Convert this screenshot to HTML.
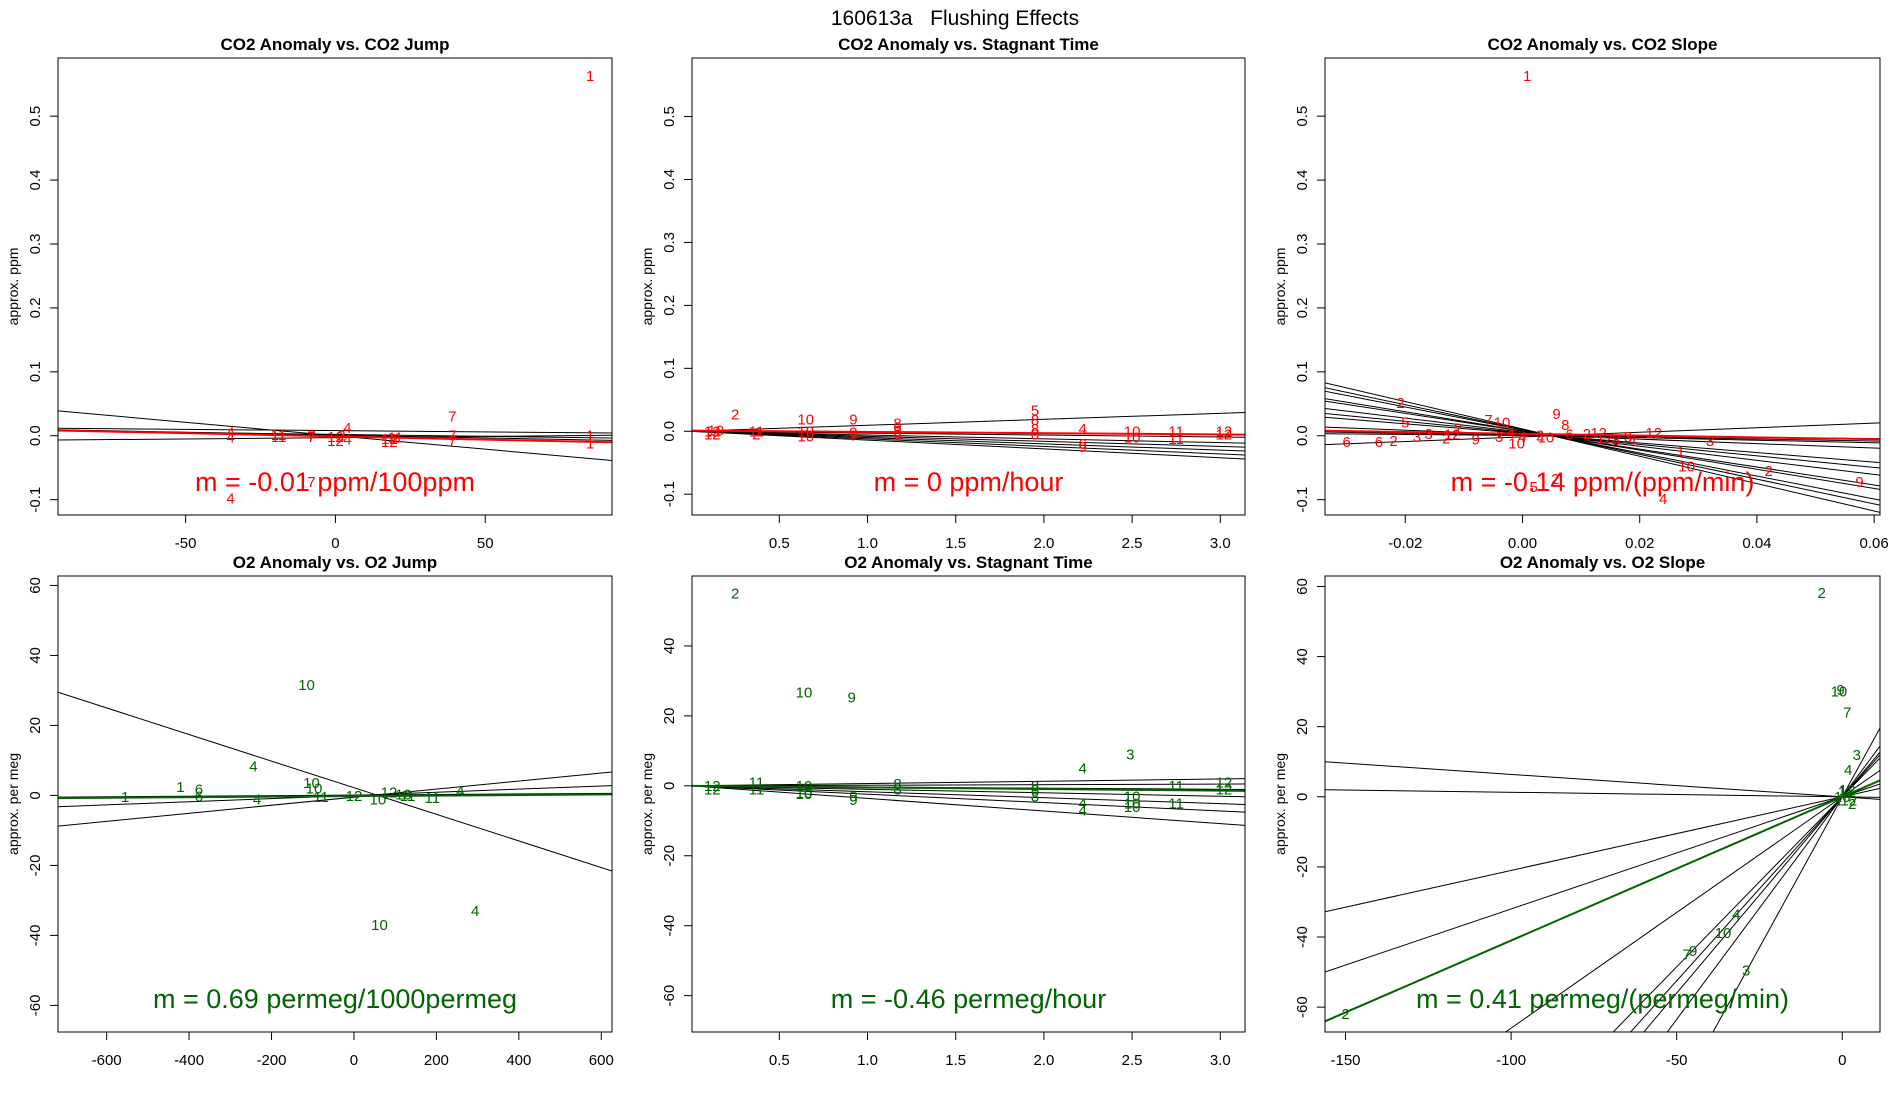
<!DOCTYPE html>
<html><head><meta charset="utf-8"><style>
html,body{margin:0;padding:0;background:#fff;overflow:hidden;width:1900px;height:1100px;}
svg{display:block;font-family:"Liberation Sans",Arial,sans-serif;}
</style></head><body>
<svg id="chart" width="1900" height="1100" xmlns="http://www.w3.org/2000/svg">
<text x="955" y="25" font-size="21" text-anchor="middle">160613a&#160;&#160;&#160;Flushing Effects</text>
</svg>
<script>
// ---------- data arrays ----------
const p1Labels=["4","4","11","11","7","7","12","12","4","4","2","12","11","12","7","7","7","1","1","1","4","7"];
const p1X=[-35,-35,-19,-19,-8,-8,0,0,4,4,2,18,20,18,39,39,39,85,85,85,-35,-8];
const p1Y=[0.005,-0.003,0.001,-0.002,0,-0.002,-0.002,-0.008,0.012,-0.006,0,-0.005,-0.003,-0.01,0.03,0,-0.008,0,-0.012,0.563,-0.098,-0.072];
const p1B0=[0,0.008,-0.003,0.002,0.001];
const p1B1=[-0.00042,-0.00004,0.00004,-0.00006,-0.00009];
const p1Fit=[-0.001,-0.0001];

const p2Labels=["12","12","10","2","11","2","10","10","10","9","9","9","8","6","8","6","5","8","8","8","4","6","9","10","10","11","11","12","12"];
const p2X=[0.12,0.12,0.14,0.25,0.37,0.37,0.65,0.65,0.65,0.92,0.92,0.92,1.17,1.17,1.17,1.17,1.95,1.95,1.95,1.95,2.22,2.22,2.22,2.5,2.5,2.75,2.75,3.02,3.02];
const p2Y=[0,-0.005,0.001,0.027,0,-0.005,0.019,0,-0.008,0.019,-0.002,-0.007,0.012,0.006,0,-0.005,0.033,0.018,0.004,-0.005,0.004,-0.02,-0.025,0,-0.01,0,-0.012,0,-0.005];
const p2B0=[0,0,0,0,0,0,0];
const p2B1=[0.0095,-0.003,-0.006,-0.008,-0.01,-0.012,-0.014];
const p2Fit=[0.001,-0.002];

const p3Labels=["1","2","5","9","7","10","8","12","3","1","10","2","9","4","5","2","6","6","2","3","2","3","2","12","4","10","3","9","2","6","12","2","3","12","1","8","4","10"];
const p3X=[0.0008,-0.0208,-0.02,0.0058,-0.0058,-0.0035,0.0073,0.0224,0.032,0.027,0.028,0.042,0.0575,0.024,0.0019,0.0056,-0.030,-0.0245,-0.022,-0.018,-0.011,-0.016,-0.013,-0.012,-0.002,-0.001,-0.004,-0.008,0.003,0.008,0.013,0.011,0.018,0.014,0.019,0.016,0.0,0.004];
const p3Y=[0.563,0.051,0.021,0.034,0.025,0.021,0.017,0.004,-0.008,-0.025,-0.048,-0.055,-0.072,-0.099,-0.08,-0.068,-0.01,-0.01,-0.008,-0.002,0.011,0.003,-0.004,0.002,0.005,-0.012,-0.002,-0.006,0,0.002,0.004,0.003,-0.002,-0.004,-0.006,-0.007,-0.002,-0.003];
const p3B0=[0.0097,0.0075,0.0055,0.0037,0.0017,0.001,-0.0018,0.0045,0.007,0.009,0.0107,0.0008,0.0004];
const p3B1=[-1.94,-1.5,-1.1,-0.75,-0.35,-0.2,0.36,-0.9,-1.4,-1.8,-2.14,-0.15,-0.08];
const p3Fit=[0.003,-0.14];

const p4Labels=["10","4","1","6","10","10","4","10","1","6","4","11","12","10","12","11","10","11","4"];
const p4X=[-115,-244,-421,-376,-103,-97,294,62,-555,-376,-235,-80,0,58,85,130,120,190,258];
const p4Y=[31.5,8.3,2.4,1.7,3.5,2,-33,-37,-0.5,-0.3,-1.2,-0.5,-0.2,-1.2,0.8,-0.2,0.3,-0.8,1.3];
const p4B0=[2.2,-0.5,0,0.1];
const p4B1=[-0.038,0.0115,0.0045,0.0008];
const p4Fit=[-0.2,0.0008];

const p5Labels=["2","10","9","3","4","12","12","11","11","10","10","10","9","9","8","8","8","8","8","4","4","10","10","10","11","11","12","12"];
const p5X=[0.25,0.64,0.91,2.49,2.22,0.12,0.12,0.37,0.37,0.64,0.64,0.64,0.92,0.92,1.17,1.17,1.95,1.95,1.95,2.22,2.22,2.5,2.5,2.5,2.75,2.75,3.02,3.02];
const p5Y=[55,26.7,25.3,9,4.9,0,-1,1,-1,0,-2,-2.4,-3,-4,0.5,-1,0,-1,-3,-5,-7,-5,-6,-3,0,-5,1,-1];
const p5B0=[0,0,0,0,0,0,0];
const p5B1=[0.65,0.16,-0.33,-1,-1.7,-2.4,-3.6];
const p5Fit=[0,-0.46];

const p6Labels=["2","10","9","7","3","4","4","10","9","7","3","2","10","11","12","1","2","12"];
const p6X=[-6.2,-1,-0.5,1.5,4.4,1.8,-32,-36,-45,-47,-29,-150,0,1,2,-1,3,1.5];
const p6Y=[58.1,30,30.5,24,12,7.6,-33.6,-38.8,-44,-45,-49.5,-62,0,1.5,-1,-1,-2,2];
const p6B0=[0,0,0,0,0,0,0,0,0,0];
const p6B1=[-0.064,-0.013,0.21,0.32,0.66,0.97,1.05,1.12,1.27,1.72];
const p6Fit=[0,0.41];

// ---------- panel config ----------
const panels=[
 {id:"co2-jump",box:[58,58,612,515],xd:[-92.6,92.3],yd:[-0.124,0.591],xt:[-50,0,50],yt:[-0.1,0,0.1,0.2,0.3,0.4,0.5],yfmt:v=>v.toFixed(1),xfmt:v=>String(v),title:"CO2 Anomaly vs. CO2 Jump",ylab:"approx. ppm",col:"#ff0000",slope:"m = -0.01 ppm/100ppm",L:p1Labels,X:p1X,Y:p1Y,B0:p1B0,B1:p1B1,F:p1Fit},
 {id:"co2-stagnant",box:[692,58,1245,515],xd:[0.005,3.14],yd:[-0.133,0.593],xt:[0.5,1,1.5,2,2.5,3],yt:[-0.1,0,0.1,0.2,0.3,0.4,0.5],yfmt:v=>v.toFixed(1),xfmt:v=>v.toFixed(1),title:"CO2 Anomaly vs. Stagnant Time",ylab:"approx. ppm",col:"#ff0000",slope:"m = 0 ppm/hour",L:p2Labels,X:p2X,Y:p2Y,B0:p2B0,B1:p2B1,F:p2Fit},
 {id:"co2-slope",box:[1325,58,1880,515],xd:[-0.0337,0.061],yd:[-0.124,0.591],xt:[-0.02,0,0.02,0.04,0.06],yt:[-0.1,0,0.1,0.2,0.3,0.4,0.5],yfmt:v=>v.toFixed(1),xfmt:v=>v.toFixed(2),title:"CO2 Anomaly vs. CO2 Slope",ylab:"approx. ppm",col:"#ff0000",slope:"m = -0.14 ppm/(ppm/min)",L:p3Labels,X:p3X,Y:p3Y,B0:p3B0,B1:p3B1,F:p3Fit},
 {id:"o2-jump",box:[58,576,612,1032],xd:[-718,626],yd:[-67.6,62.7],xt:[-600,-400,-200,0,200,400,600],yt:[-60,-40,-20,0,20,40,60],yfmt:v=>String(v),xfmt:v=>String(v),title:"O2 Anomaly vs. O2 Jump",ylab:"approx. per meg",col:"#006400",slope:"m = 0.69 permeg/1000permeg",L:p4Labels,X:p4X,Y:p4Y,B0:p4B0,B1:p4B1,F:p4Fit},
 {id:"o2-stagnant",box:[692,576,1245,1032],xd:[0.005,3.14],yd:[-70.4,60],xt:[0.5,1,1.5,2,2.5,3],yt:[-60,-40,-20,0,20,40],yfmt:v=>String(v),xfmt:v=>v.toFixed(1),title:"O2 Anomaly vs. Stagnant Time",ylab:"approx. per meg",col:"#006400",slope:"m = -0.46 permeg/hour",L:p5Labels,X:p5X,Y:p5Y,B0:p5B0,B1:p5B1,F:p5Fit},
 {id:"o2-slope",box:[1325,576,1880,1032],xd:[-156.2,11.4],yd:[-67.1,63],xt:[-150,-100,-50,0],yt:[-60,-40,-20,0,20,40,60],yfmt:v=>String(v),xfmt:v=>String(v),title:"O2 Anomaly vs. O2 Slope",ylab:"approx. per meg",col:"#006400",slope:"m = 0.41 permeg/(permeg/min)",L:p6Labels,X:p6X,Y:p6Y,B0:p6B0,B1:p6B1,F:p6Fit}
];

const NS="http://www.w3.org/2000/svg";
const svg=document.getElementById("chart");
function mk(tag,attrs,parent){const e=document.createElementNS(NS,tag);for(const k in attrs)e.setAttribute(k,attrs[k]);(parent||svg).appendChild(e);return e;}

panels.forEach((p,pi)=>{
  const [x0,y0,x1,y1]=p.box;
  const sx=v=>x0+(v-p.xd[0])/(p.xd[1]-p.xd[0])*(x1-x0);
  const sy=v=>y1-(v-p.yd[0])/(p.yd[1]-p.yd[0])*(y1-y0);
  const g=mk("g",{});
  
  
  const cid="clip"+pi;
  const cp=mk("clipPath",{id:cid},g);
  mk("rect",{x:x0,y:y0,width:x1-x0,height:y1-y0},cp);
  const plot=mk("g",{"clip-path":"url(#"+cid+")"},g);
  p.B0.forEach((b0,i)=>{
    const b1=p.B1[i];
    const l=mk("line",{x1:sx(p.xd[0]),y1:sy(b0+b1*p.xd[0]),x2:sx(p.xd[1]),y2:sy(b0+b1*p.xd[1]),stroke:"#000","stroke-width":1},plot);
    
    
  });
  const f=mk("line",{x1:sx(p.xd[0]),y1:sy(p.F[0]+p.F[1]*p.xd[0]),x2:sx(p.xd[1]),y2:sy(p.F[0]+p.F[1]*p.xd[1]),stroke:p.col,"stroke-width":2},plot);
  
  
  p.L.forEach((lab,i)=>{
    const t=mk("text",{x:sx(p.X[i]),y:sy(p.Y[i])+5,"font-size":15,"text-anchor":"middle",fill:p.col},plot);
    t.textContent=lab;
    
    
  });
  const st=mk("text",{x:(x0+x1)/2,y:y1-24,"font-size":27,"text-anchor":"middle",fill:p.col},g);
  st.textContent=p.slope;
  
  
  const r=mk("rect",{x:x0,y:y0,width:x1-x0,height:y1-y0,fill:"none",stroke:"#000","stroke-width":1},g);
  
  
  const ti=mk("text",{x:(x0+x1)/2,y:y0-8,"font-size":17,"font-weight":"bold","text-anchor":"middle"},g);
  ti.textContent=p.title;
  
  
  p.xt.forEach(v=>{
    const X=sx(v);
    mk("line",{x1:X,y1:y1,x2:X,y2:y1+8,stroke:"#000"},g);
    const t=mk("text",{x:X,y:y1+33,"font-size":15,"text-anchor":"middle"},g);
    t.textContent=p.xfmt(v);
    
    
  });
  p.yt.forEach(v=>{
    const Y=sy(v);
    mk("line",{x1:x0,y1:Y,x2:x0-8,y2:Y,stroke:"#000"},g);
    const t=mk("text",{x:0,y:0,"font-size":15,"text-anchor":"middle",transform:"translate("+(x0-18)+","+Y+") rotate(-90)"},g);
    t.textContent=p.yfmt(v);
    
    
  });
  const yl=mk("text",{x:0,y:0,"font-size":14,"text-anchor":"middle",transform:"translate("+(x0-40)+","+((y0+y1)/2)+") rotate(-90)"},g);
  yl.textContent=p.ylab;
  
  
});
</script>
</body></html>
